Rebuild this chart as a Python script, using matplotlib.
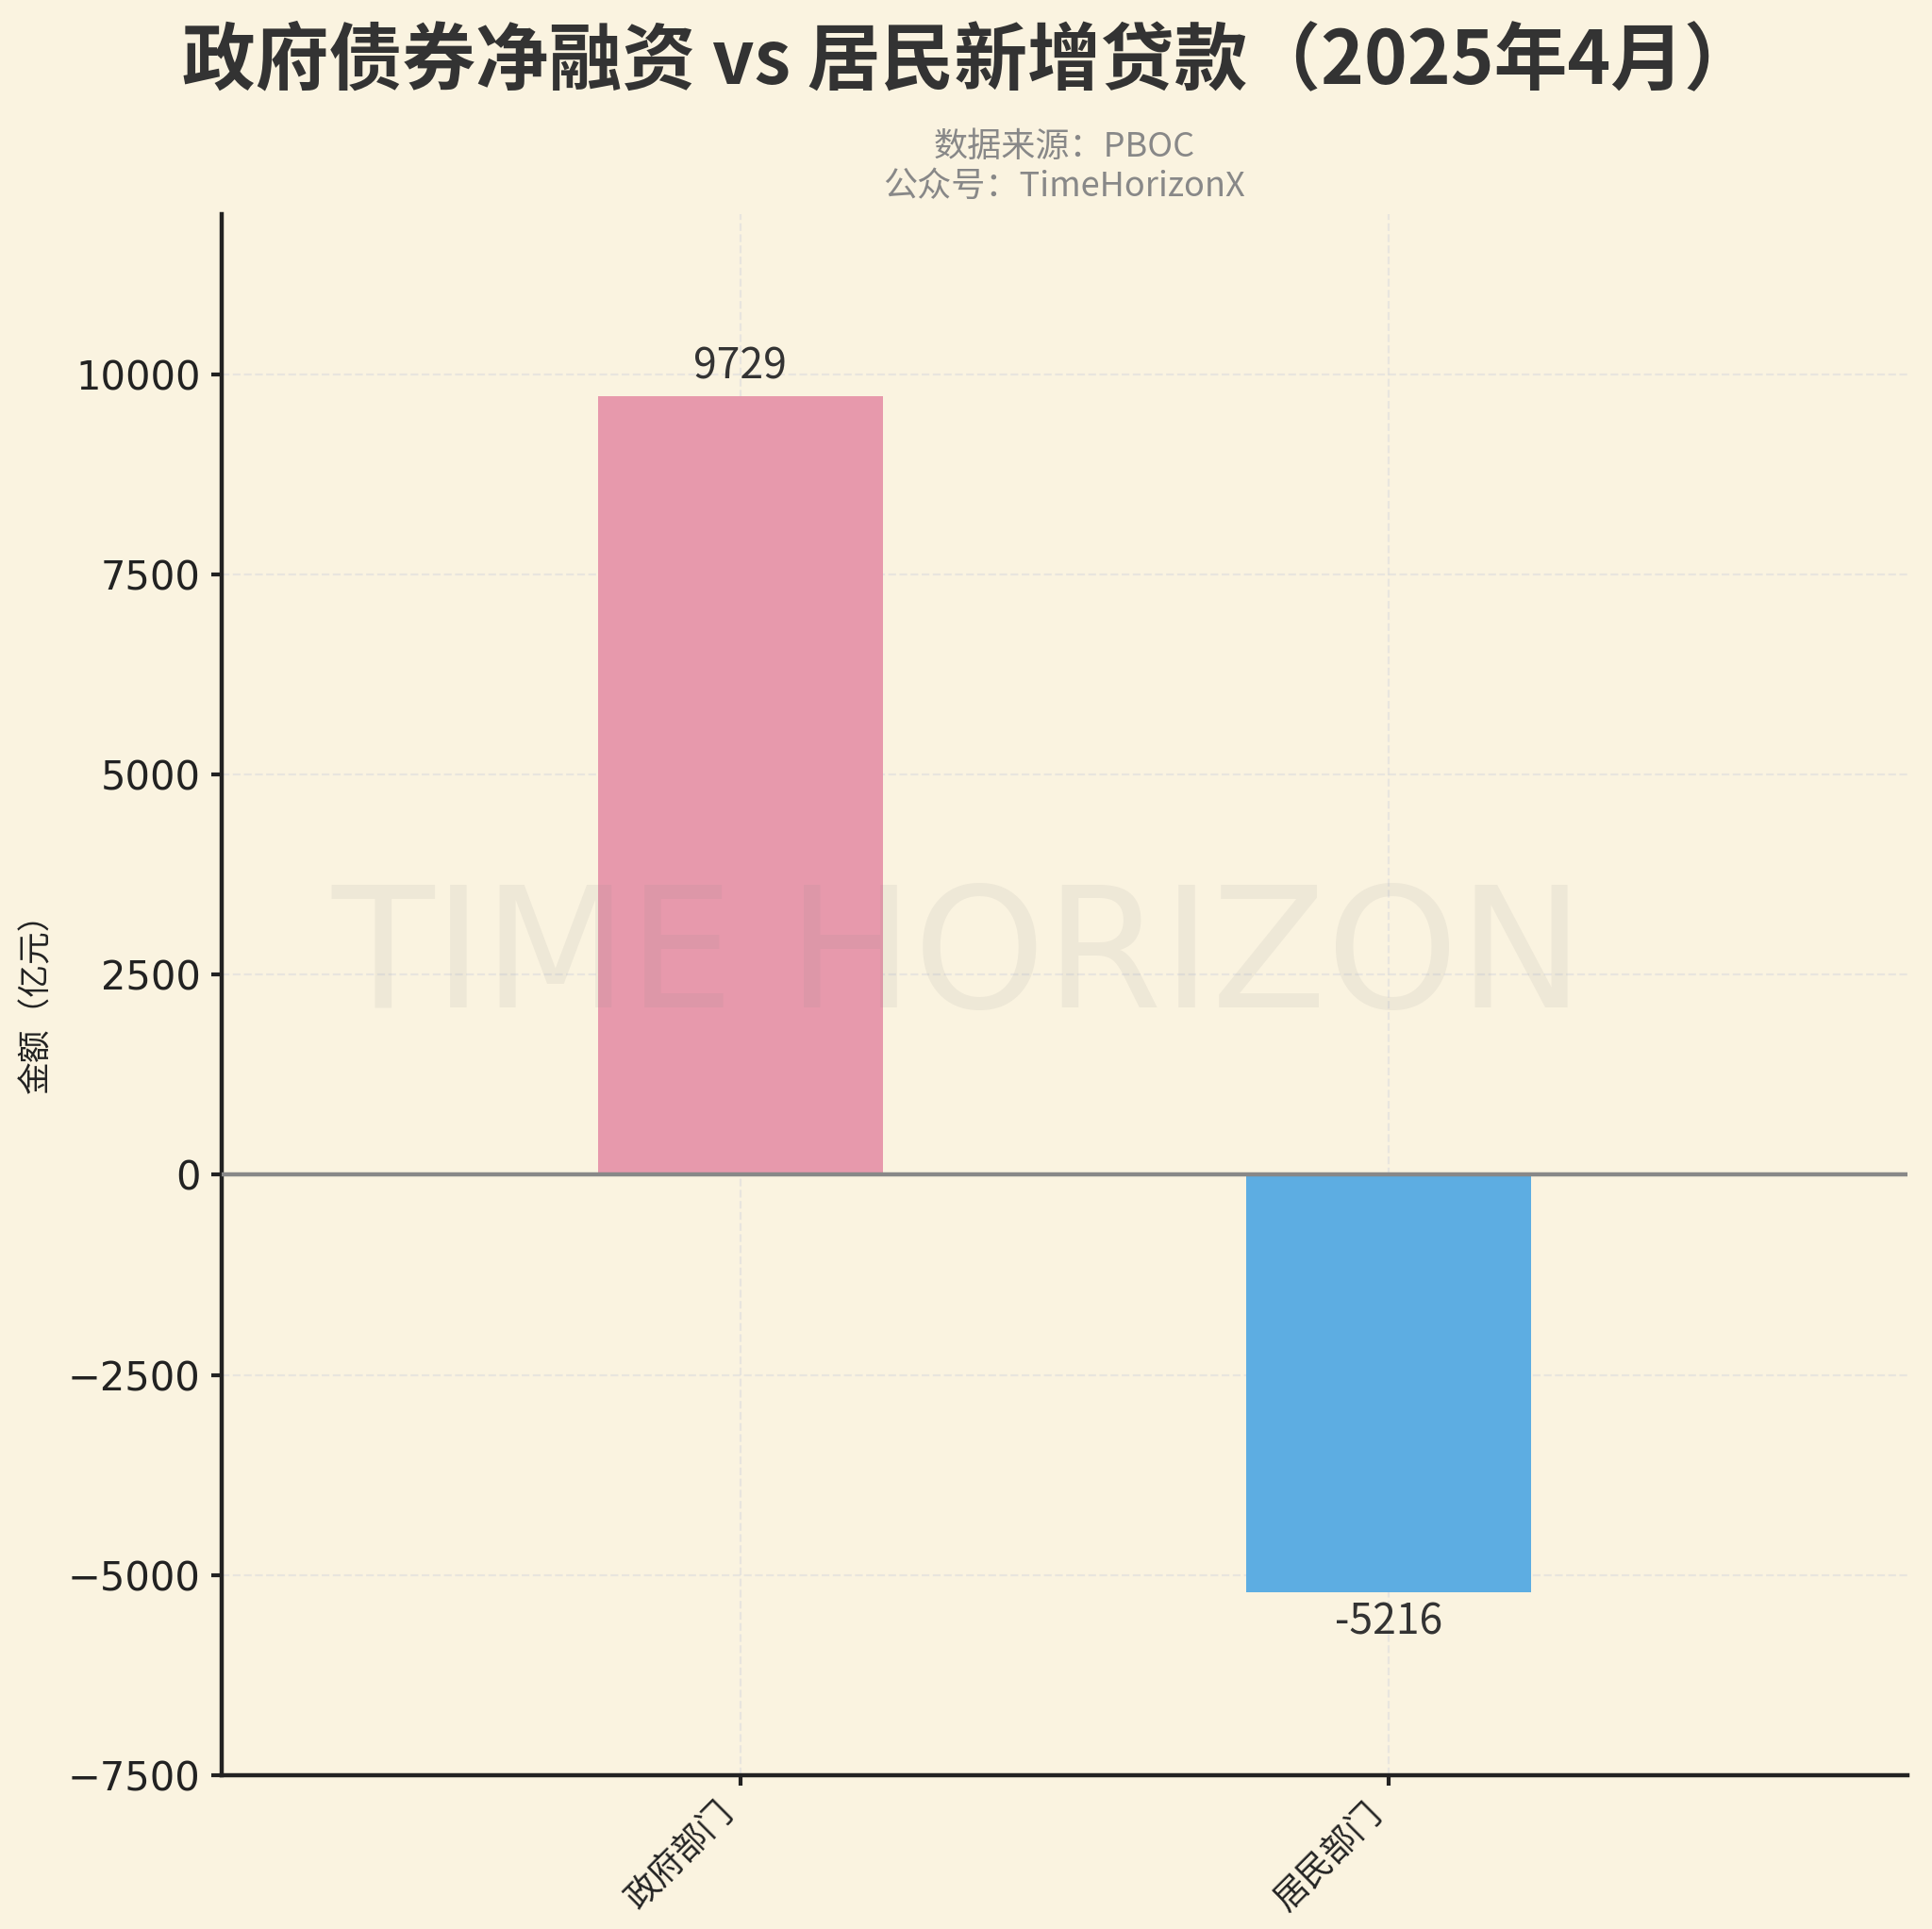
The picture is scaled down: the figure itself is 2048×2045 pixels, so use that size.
import matplotlib
matplotlib.use("Agg")
import matplotlib.pyplot as plt

categories = ["政府部门", "居民部门"]
values = [9729, -5216]
colors = ["#E799AC", "#5DADE2"]
yticks = [-7500, -5000, -2500, 0, 2500, 5000, 7500, 10000]

plt.rcParams['font.family'] = ['Noto Sans CJK SC', 'DejaVu Sans']
plt.rcParams['axes.unicode_minus'] = True

bg = "#FAF3E0"
fig = plt.figure(figsize=(10.24, 10.225), dpi=200, facecolor=bg)
ax = fig.add_axes([235/2048, 1 - 1882/2045, (2022-235)/2048, (1882-227)/2045])
ax.set_facecolor(bg)

x = list(range(len(categories)))
bars = ax.bar(x, values, width=0.44, color=colors, zorder=2)
ax.axhline(0, color="#888888", lw=1.6, zorder=3)

for xi, v in zip(x, values):
    if v >= 0:
        ax.annotate(f"{v}", (xi, v), xytext=(0, 3), textcoords="offset points",
                    ha="center", va="bottom", fontsize=16, color="#333333")
    else:
        ax.annotate(f"{v}", (xi, v), xytext=(0, -3), textcoords="offset points",
                    ha="center", va="top", fontsize=16, color="#333333")

ax.set_xlim(-0.8, 1.8)
ax.set_ylim(-7500, 12000)
ax.set_yticks(yticks)
ax.set_yticklabels([f"{t}".replace("-", "\u2212") for t in yticks],
                   fontfamily="DejaVu Sans", fontsize=15, color="#222222")
ax.set_xticks(x)
ax.set_xticklabels(categories, rotation=45, ha="right",
                   fontsize=13, color="#222222")
ax.tick_params(axis="both", length=4, width=1.5, color="#222222", pad=4)

for s in ["top", "right"]:
    ax.spines[s].set_visible(False)
for s in ["left", "bottom"]:
    ax.spines[s].set_linewidth(1.6)
    ax.spines[s].set_color("#222222")

ax.grid(True, linestyle="--", color="#DDDDDD", alpha=0.6, lw=0.8, zorder=0)
ax.set_axisbelow(True)

ax.set_ylabel("金额（亿元）", fontsize=12.5, color="#222222")
ax.yaxis.set_label_coords(-0.10, 0.5)
ax.set_title("数据来源：PBOC\n公众号：TimeHorizonX", fontsize=13, color="#888888",
             pad=7, linespacing=1.2)
fig.text(0.502, 0.968, "政府债券净融资 vs 居民新增贷款（2025年4月）", ha="center", va="center",
         fontsize=28, fontweight="semibold", color="#333333")

fig.text(0.496, 0.502, "TIME HORIZON", ha="center", va="center", fontsize=64,
         fontfamily="DejaVu Sans", color="#888888", alpha=0.1, zorder=10)

fig.savefig("out.png", dpi=200, facecolor=bg)
